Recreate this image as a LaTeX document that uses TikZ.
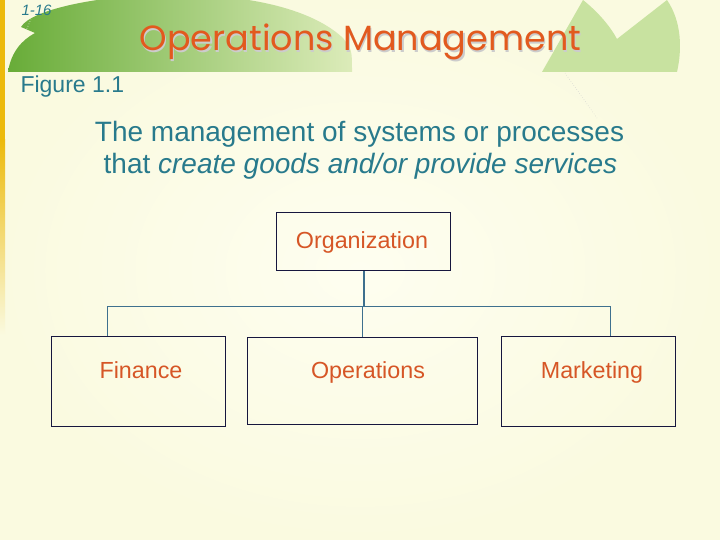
\documentclass[tikz,border=0pt]{standalone}
\usepackage{fontspec}
\setmainfont{Liberation Sans}
\newfontfamily\titlefont{Poppins}
\usetikzlibrary{calc}
\definecolor{cream}{RGB}{250,250,224}
\definecolor{lightcream}{RGB}{254,254,240}
\definecolor{leafgreen}{RGB}{104,172,56}
\definecolor{midgreen}{RGB}{140,190,92}
\definecolor{palegreen}{RGB}{200,226,160}
\definecolor{gold}{RGB}{236,186,12}
\definecolor{tealtext}{RGB}{40,122,140}
\definecolor{rust}{RGB}{214,86,38}
\definecolor{titleorange}{RGB}{226,90,30}
\definecolor{navy}{RGB}{22,22,62}
\definecolor{linkblue}{RGB}{62,112,142}

\begin{document}
\begin{tikzpicture}[x=1pt, y=-1pt,
        box/.style={draw=navy, line width=1.2pt, minimum width=174pt, minimum height=90pt, inner sep=0pt, anchor=north west},
        boxtext/.style={anchor=base, text=rust, font=\fontsize{23.3}{26}\selectfont},
        link/.style={draw=linkblue, line width=1pt},
        trunk/.style={draw=linkblue, line width=2pt}]
        \useasboundingbox (0,0) rectangle (720,540);

        %% fond
        \shade [inner color=lightcream, outer color=cream] (0,0) rectangle (720,540);
        \fill [gold] (0,0) rectangle (5,140);
        \shade [top color=gold, bottom color=cream] (0,140) rectangle (5,335);

        %% feuilles vertes
        \shade [left color=leafgreen, middle color=midgreen, right color=palegreen!60!cream]
                (8,72) .. controls (11,52) and (22,40) .. (35,33) -- (21,27)
                .. controls (40,-6) and (270,-30) .. (343,38)
                .. controls (352,50) .. (352,72) -- cycle;
        \draw [white, dotted, line width=0.6pt] (33,14) -- (26,31);
        \fill [palegreen] (542,72) -- (583,0) .. controls (598,12) and (610,26) .. (617,39)
                -- (667,0) .. controls (682,22) and (682,50) .. (677,72) -- cycle;
        \draw [gray!40, dotted, line width=0.5pt] (565,73) -- (597,118);

        %% titre
        \node [anchor=west, text=tealtext, font=\fontsize{15}{17}\selectfont\itshape] (slide) at (18,10) {1-16};
        \node [anchor=base, text=gray!40, font=\titlefont\fontsize{35}{38}\selectfont] (shadow) at (361.7,52.2) {Operations Management};
        \node [anchor=base, text=titleorange, font=\titlefont\fontsize{35}{38}\selectfont] (title) at (360.5,51) {Operations Management};
        \node [anchor=base west, text=tealtext, font=\fontsize{23}{26}\selectfont] (figure) at (17,93) {Figure 1.1};

        %% definition
        \node [anchor=base, text=tealtext, font=\fontsize{28}{32}\selectfont] (defa) at (359.5,142) {The management of systems or processes};
        \node [anchor=base, text=tealtext, font=\fontsize{28}{32}\selectfont] (defb) at (360.5,174) {that \textit{create goods and/or provide services}};

        %% organigramme
        \node [box, minimum height=58pt] (org) at (276,212) {};
        \node [boxtext] (orgtext) at (362,248) {Organization};

        \node [box] (fin) at (51,336) {};
        \node [box, minimum width=230pt, minimum height=87pt] (ops) at (247,337) {};
        \node [box] (mkt) at (501,336) {};
        \node [boxtext] (fintext) at (141,378) {Finance};
        \node [boxtext] (opstext) at (368,378) {Operations};
        \node [boxtext] (mkttext) at (592,378) {Marketing};

        \coordinate (bus) at (363,306);
        \coordinate (finup) at (107,336);
        \coordinate (mktup) at (610,336);
        \draw [trunk] (org.south) -- (org.south |- bus);
        \draw [link] (finup) -- (finup |- bus) -- (mktup |- bus) -- (mktup);
        \draw [link] (ops.north) -- (ops.north |- bus);
\end{tikzpicture}
\end{document}
